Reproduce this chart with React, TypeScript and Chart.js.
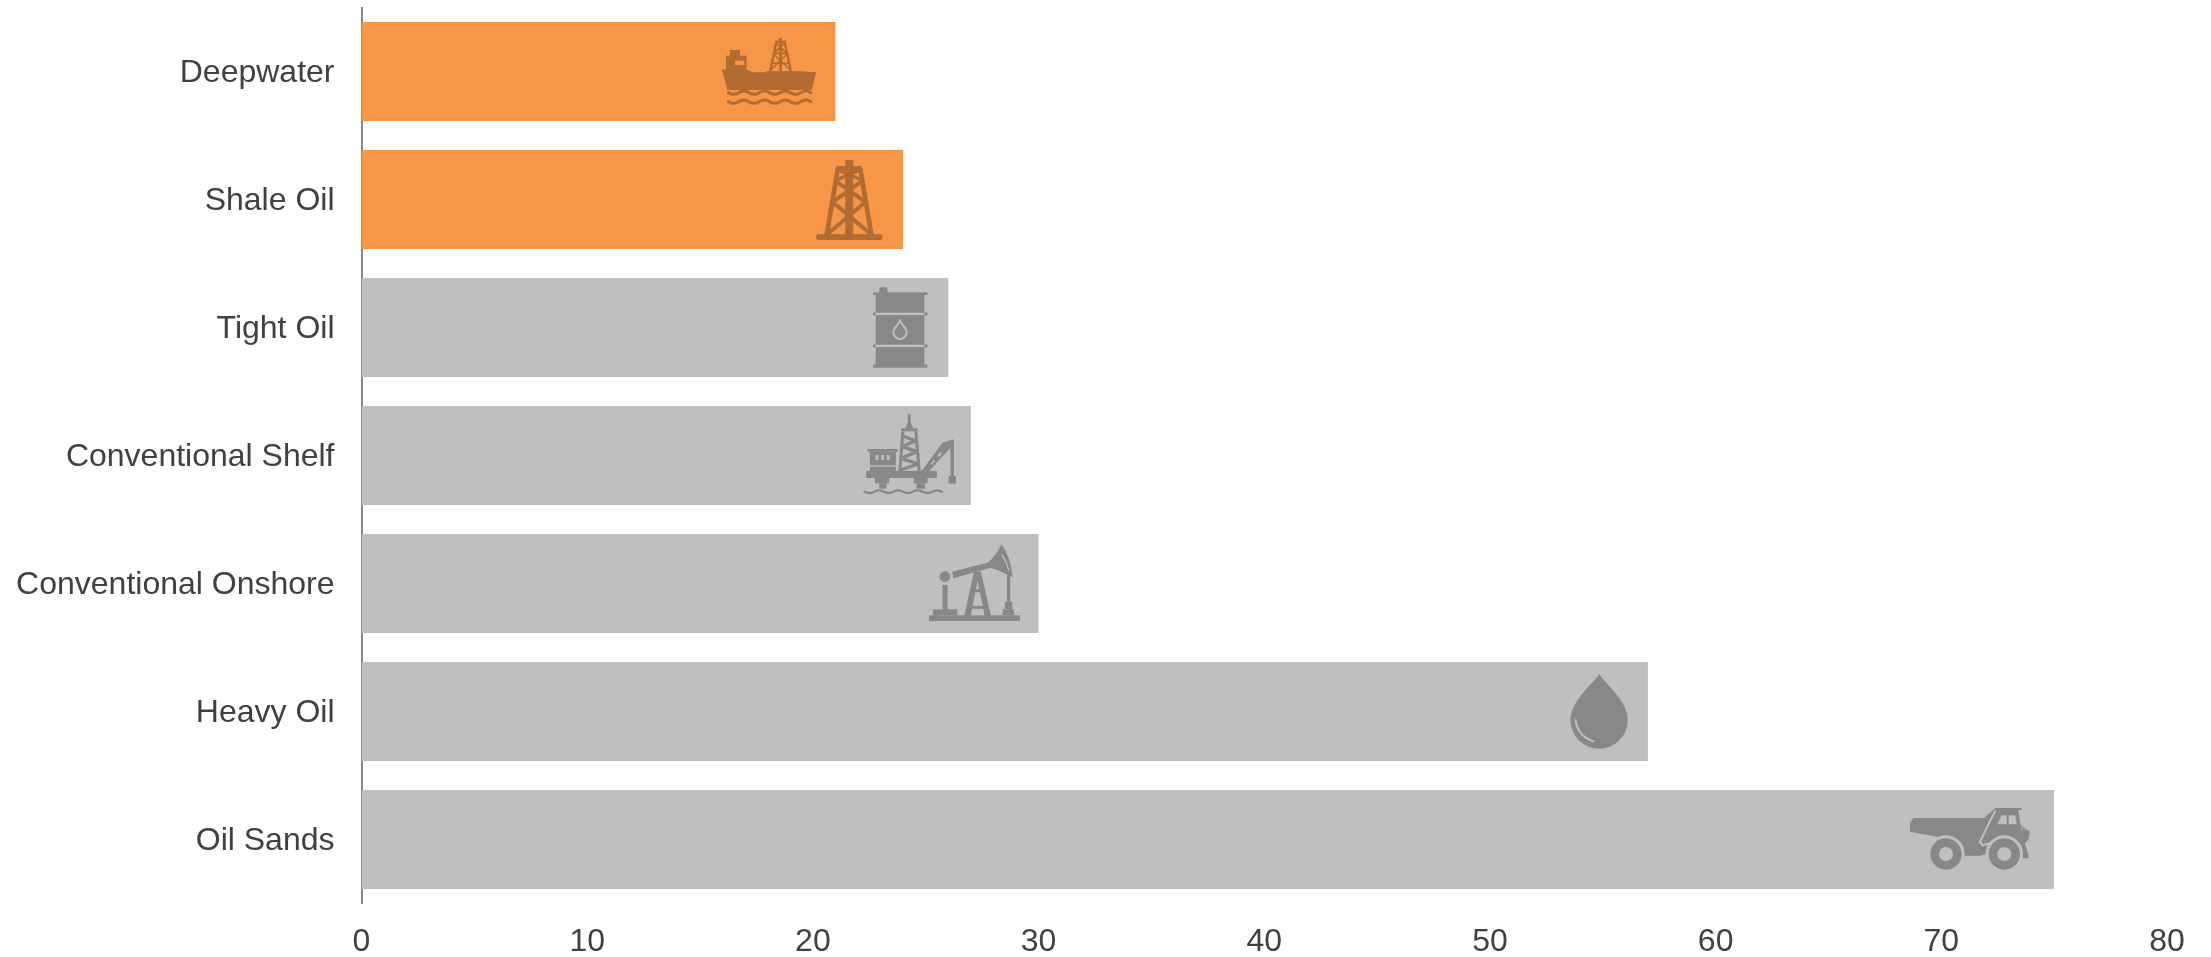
import React, { useEffect, useRef } from "react";
import { Chart, registerables } from "chart.js";

Chart.register(...registerables);

const categories = ["Deepwater", "Shale Oil", "Tight Oil", "Conventional Shelf", "Conventional Onshore", "Heavy Oil", "Oil Sands"];
const values = [21, 24, 26, 27, 30, 57, 75];
const barColors = ["#F79646", "#F79646", "#BFBFBF", "#BFBFBF", "#BFBFBF", "#BFBFBF", "#BFBFBF"];
const iconColors = ["#B06C33", "#B06C33", "#888888", "#888888", "#888888", "#888888", "#888888"];
// Where each pictogram sits along the value axis
const iconValues = [18.07, 21.61, 23.86, 24.15, 27.18, 54.84, 71.27];
const tickValues = [0, 10, 20, 30, 40, 50, 60, 70, 80];

type C = CanvasRenderingContext2D;
const rect = (c: C, x0: number, y0: number, x1: number, y1: number) => c.fillRect(x0, y0, x1 - x0, y1 - y0);
const poly = (c: C, p: number[]) => {
  c.beginPath();
  c.moveTo(p[0], p[1]);
  for (let i = 2; i < p.length; i += 2) c.lineTo(p[i], p[i + 1]);
  c.closePath();
  c.fill();
};
const line = (c: C, w: number, p: number[]) => {
  c.lineWidth = w;
  c.beginPath();
  c.moveTo(p[0], p[1]);
  for (let i = 2; i < p.length; i += 2) c.lineTo(p[i], p[i + 1]);
  c.stroke();
};
const disc = (c: C, x: number, y: number, r: number) => {
  c.beginPath();
  c.arc(x, y, r, 0, Math.PI * 2);
  c.fill();
};
const wave = (c: C, w: number, x0: number, x1: number, y: number, amp: number, period: number) => {
  c.lineWidth = w;
  c.lineCap = "round";
  c.beginPath();
  c.moveTo(x0, y);
  let up = false;
  for (let x = x0; x < x1 - period / 4; x += period / 2) {
    c.quadraticCurveTo(x + period / 4, y + (up ? -amp : amp) * 2, x + period / 2, y);
    up = !up;
  }
  c.stroke();
  c.lineCap = "butt";
};

// Each pictogram is drawn at 3x in its own little space, anchored at [ax, ay]
const icons: { ax: number; ay: number; draw: (c: C, fg: string, bg: string) => void }[] = [
  {
    ax: 208, ay: 154.5,
    draw(c, fg, bg) {
      c.fillStyle = fg; c.strokeStyle = fg;
      poly(c, [66, 148, 140, 148, 158, 157, 198, 157, 200, 153, 285, 153, 349, 157, 335, 210, 82, 210]);
      rect(c, 78, 107, 140, 150);
      rect(c, 90, 90, 120, 108);
      c.fillStyle = bg; rect(c, 105, 122, 133, 135); c.fillStyle = fg;
      line(c, 7, [210, 155, 229, 66]);
      line(c, 7, [273, 155, 254, 66]);
      rect(c, 226, 62, 257, 69);
      rect(c, 236, 54, 246, 62);
      rect(c, 238, 66, 246, 155);
      line(c, 5, [215, 130, 268, 130]);
      line(c, 5, [220, 100, 263, 100]);
      line(c, 5, [212, 150, 262, 102]);
      line(c, 5, [271, 150, 221, 102]);
      line(c, 5, [222, 100, 254, 70]);
      line(c, 5, [261, 100, 229, 70]);
      wave(c, 9, 85, 335, 218, 5, 62);
      wave(c, 9, 85, 335, 245, 5, 62);
    },
  },
  {
    ax: 448, ay: 538.5,
    draw(c, fg) {
      c.fillStyle = fg; c.strokeStyle = fg;
      rect(c, 436, 420, 460, 440);
      c.beginPath(); c.roundRect(408, 438, 78, 14, 5); c.fill();
      line(c, 14, [414, 445, 380, 648]);
      line(c, 14, [481, 445, 515, 648]);
      rect(c, 436, 440, 460, 648);
      c.beginPath(); c.roundRect(349, 643, 199, 17, 7); c.fill();
      line(c, 12, [383, 642, 494, 548]);
      line(c, 12, [512, 642, 401, 548]);
      line(c, 12, [398, 546, 489, 482]);
      line(c, 12, [497, 546, 406, 482]);
      line(c, 10, [409, 480, 480, 450]);
      line(c, 10, [486, 480, 415, 450]);
    },
  },
  {
    ax: 180, ay: 172.5,
    draw(c, fg, bg) {
      c.fillStyle = fg; c.strokeStyle = bg;
      rect(c, 107, 70, 253, 290);
      rect(c, 99, 67, 262, 75);
      rect(c, 99, 284, 262, 293);
      c.beginPath(); c.roundRect(118, 52, 24, 18, 4); c.fill();
      rect(c, 99, 127, 107, 136);
      rect(c, 253, 127, 262, 136);
      rect(c, 99, 223, 107, 232);
      rect(c, 253, 223, 262, 232);
      c.fillStyle = bg;
      rect(c, 107, 128, 253, 135);
      rect(c, 107, 224, 253, 231);
      c.lineWidth = 6;
      c.beginPath();
      c.moveTo(180, 152);
      c.bezierCurveTo(174, 165, 160, 174, 160, 187);
      c.arc(180, 187, 20, Math.PI, 0, true);
      c.bezierCurveTo(200, 174, 186, 165, 180, 152);
      c.closePath();
      c.stroke();
    },
  },
  {
    ax: 200, ay: 556.5,
    draw(c, fg, bg) {
      c.fillStyle = fg; c.strokeStyle = fg;
      rect(c, 204, 433, 212, 460);
      poly(c, [196, 478, 204, 456, 212, 456, 221, 478]);
      rect(c, 184, 475, 233, 484);
      line(c, 9, [189, 484, 180, 603]);
      line(c, 9, [228, 484, 238, 603]);
      line(c, 10, [188, 498, 228, 512]);
      line(c, 10, [228, 512, 186, 530]);
      line(c, 10, [186, 530, 232, 545]);
      line(c, 10, [232, 545, 183, 565]);
      line(c, 10, [183, 565, 236, 582]);
      line(c, 10, [236, 582, 181, 600]);
      rect(c, 79, 603, 291, 624);
      rect(c, 105, 624, 148, 640);
      rect(c, 118, 640, 140, 656);
      rect(c, 222, 624, 263, 640);
      rect(c, 230, 640, 255, 656);
      wave(c, 7, 74, 303, 665, 4, 58);
      rect(c, 82, 537, 174, 545);
      rect(c, 90, 545, 168, 586);
      rect(c, 90, 590, 168, 603);
      c.fillStyle = bg;
      rect(c, 107, 555, 115, 570);
      rect(c, 124, 555, 132, 570);
      rect(c, 141, 555, 149, 570);
      c.fillStyle = fg;
      poly(c, [245, 603, 268, 603, 342, 522, 340, 508, 308, 518]);
      c.fillStyle = bg;
      poly(c, [272, 580, 282, 570, 286, 574, 276, 584]);
      poly(c, [292, 558, 302, 547, 306, 551, 296, 562]);
      c.fillStyle = fg;
      rect(c, 332, 510, 342, 618);
      rect(c, 326, 618, 348, 641);
    },
  },
  {
    ax: 225, ay: 190.5,
    draw(c, fg, bg) {
      c.fillStyle = fg; c.strokeStyle = fg;
      rect(c, 87, 286, 360, 303);
      rect(c, 99, 268, 172, 286);
      rect(c, 128, 195, 143, 270);
      disc(c, 135, 170, 16);
      poly(c, [157, 155, 268, 127, 272, 144, 160, 175]);
      c.beginPath();
      c.moveTo(264, 128);
      c.quadraticCurveTo(288, 108, 305, 72);
      c.quadraticCurveTo(335, 118, 338, 172);
      c.lineTo(318, 162);
      c.quadraticCurveTo(292, 148, 264, 142);
      c.closePath();
      c.fill();
      c.strokeStyle = bg;
      c.lineWidth = 4;
      c.beginPath();
      c.moveTo(306, 104);
      c.quadraticCurveTo(322, 128, 327, 152);
      c.stroke();
      c.strokeStyle = fg;
      rect(c, 321, 165, 331, 245);
      rect(c, 315, 245, 337, 268);
      rect(c, 308, 268, 342, 286);
      poly(c, [193, 288, 222, 155, 243, 155, 273, 288, 254, 288, 233, 182, 212, 288]);
      line(c, 9, [216, 262, 250, 262]);
      line(c, 9, [224, 212, 242, 212]);
    },
  },
  {
    ax: 178, ay: 154.5,
    draw(c, fg, bg) {
      c.fillStyle = fg;
      c.beginPath();
      c.moveTo(178, 42);
      c.bezierCurveTo(160, 72, 92, 122, 92, 180);
      c.arc(178, 180, 86, Math.PI, 0, true);
      c.bezierCurveTo(264, 122, 196, 72, 178, 42);
      c.closePath();
      c.fill();
      c.strokeStyle = bg;
      c.lineWidth = 6;
      c.beginPath();
      c.moveTo(107, 178);
      c.quadraticCurveTo(112, 228, 163, 245);
      c.stroke();
    },
  },
  {
    ax: 240, ay: 148.5,
    draw(c, fg, bg) {
      c.fillStyle = fg; c.strokeStyle = bg;
      poly(c, [70, 84, 282, 84, 316, 54, 396, 54, 396, 60, 385, 60, 392, 105, 420, 125, 415, 150, 405, 160, 416, 198, 416, 205, 398, 205, 392, 165, 270, 197, 215, 197, 195, 150, 60, 125, 60, 100]);
      c.fillStyle = bg;
      disc(c, 168, 192, 56);
      disc(c, 343, 192, 56);
      c.fillStyle = fg;
      disc(c, 168, 192, 47);
      disc(c, 343, 192, 47);
      c.fillStyle = bg;
      disc(c, 168, 192, 21);
      disc(c, 343, 192, 21);
      line(c, 6, [316, 62, 270, 155, 278, 166, 300, 160]);
      poly(c, [322, 103, 335, 76, 350, 76, 350, 103]);
      poly(c, [356, 76, 376, 76, 380, 103, 356, 103]);
      line(c, 2.5, [396, 108, 396, 122]);
      line(c, 2.5, [405, 108, 405, 122]);
      line(c, 2.5, [414, 110, 414, 122]);
    },
  },
];

const iconPlugin = {
  id: "pictograms",
  afterDatasetsDraw(chart: any) {
    const c: C = chart.ctx;
    const xs = chart.scales.x;
    const ys = chart.scales.y;
    icons.forEach((icon, i) => {
      c.save();
      c.translate(xs.getPixelForValue(iconValues[i]), ys.getPixelForValue(categories[i]));
      c.scale(1 / 3, 1 / 3);
      c.translate(-icon.ax, -icon.ay);
      icon.draw(c, iconColors[i], barColors[i]);
      c.restore();
    });
  },
};

export default function App() {
  const ref = useRef<HTMLCanvasElement>(null);
  useEffect(() => {
    const chart = new Chart(ref.current!, {
      type: "bar",
      data: {
        labels: categories,
        datasets: [{ data: values, backgroundColor: barColors, borderWidth: 0, barPercentage: 0.773, categoryPercentage: 1 }],
      },
      options: {
        indexAxis: "y",
        animation: false,
        responsive: false,
        devicePixelRatio: 1,
        layout: { padding: { top: 7.5, right: 44, bottom: 0, left: 0 } },
        plugins: { legend: { display: false }, tooltip: { enabled: false } },
        scales: {
          x: {
            type: "linear",
            min: 0,
            max: 80,
            afterBuildTicks: (s: any) => { s.ticks = tickValues.map((value) => ({ value })); },
            afterFit: (s: any) => { s.height = 53.5; s.paddingLeft = 0; s.paddingRight = 0; },
            grid: { display: false, drawTicks: false },
            border: { display: false },
            ticks: { color: "#404040", padding: 19, maxRotation: 0, autoSkip: false, font: { family: "'Liberation Sans'", size: 32 } },
          },
          y: {
            type: "category",
            afterFit: (s: any) => {
              s.width = 361.5;
              s.paddingTop = 0;
              s.paddingBottom = 0;
              if (!s.__shifted) {
                s.__shifted = true;
                const orig = s.getLabelItems.bind(s);
                s.getLabelItems = (area: any) => orig(area).map((it: any) => ({ ...it, textOffset: it.textOffset + 1.4 }));
              }
            },
            grid: { display: false, drawTicks: false },
            border: { display: true, color: "#868686", width: 2 },
            ticks: { color: "#404040", padding: 27, autoSkip: false, font: { family: "'Liberation Sans'", size: 32 } },
          },
        },
      },
      plugins: [iconPlugin],
    } as any);
    return () => chart.destroy();
  }, []);
  return (
    <div style={{ position: "fixed", left: 0, top: 0, width: 2211, height: 957, background: "#fff" }}>
      <canvas ref={ref} width={2211} height={957} style={{ display: "block", width: 2211, height: 957 }} />
    </div>
  );
}
